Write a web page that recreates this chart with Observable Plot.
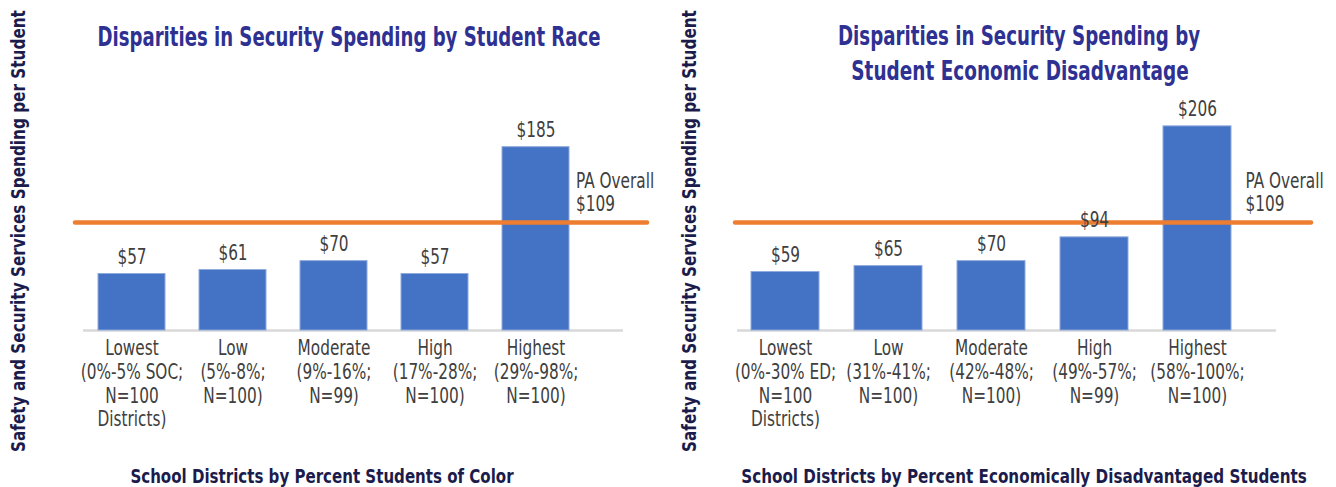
<!DOCTYPE html>
<html>
<head>
<meta charset="utf-8">
<script src="https://cdn.jsdelivr.net/npm/d3@7"></script>
<script src="https://cdn.jsdelivr.net/npm/@observablehq/plot@0.6"></script>
<style>
  body { margin: 0; background: #fff; }
  #wrap { position: relative; width: 1336px; height: 487px; display: flex; }
  .panel { position: relative; width: 668px; height: 487px; flex: none; }
  .narrow { font-family: "DejaVu Sans Condensed", "DejaVu Sans", sans-serif; }
  .lbl { position: absolute; white-space: nowrap; font-weight: bold; line-height: 1.2; }
  .title { color: #2e3192; font-size: 26px; }
  .xtitle { color: #1c1c4c; font-size: 20px; }
  .ytitle { color: #1c1c4c; font-size: 19.5px; }
  .chart { position: absolute; left: 0; top: 90px; }
</style>
</head>
<body>
<div id="wrap"></div>
<script>
// ---- data ----
const levels = ["Lowest", "Low", "Moderate", "High", "Highest"];

const raceRanges = ["(0%-5% SOC;", "(5%-8%;", "(9%-16%;", "(17%-28%;", "(29%-98%;"];
const raceCounts = ["N=100\nDistricts)", "N=100)", "N=99)", "N=100)", "N=100)"];
const raceValues = [57, 61, 70, 57, 185];

const econRanges = ["(0%-30% ED;", "(31%-41%;", "(42%-48%;", "(49%-57%;", "(58%-100%;"];
const econCounts = ["N=100\nDistricts)", "N=100)", "N=100)", "N=99)", "N=100)"];
const econValues = [59, 65, 70, 94, 206];

const paOverall = 109;

const yTitle = "Safety and Security Services Spending per Student";
const raceTitle = ["Disparities in Security Spending by Student Race"];
const econTitle = ["Disparities in Security Spending by", "Student Economic Disadvantage"];
const raceXTitle = "School Districts by Percent Students of Color";
const econXTitle = "School Districts by Percent Economically Disadvantaged Students";

const FONT = '"DejaVu Sans Condensed", "DejaVu Sans", sans-serif';
const GRAY = "#404040";
const TEXT_SCALE = 0.83;

// place a label centred at (cx, cy), squeezed horizontally to a target width
function placeLabel(parent, cls, text, cx, cy, targetW, rotate) {
  const el = document.createElement("div");
  el.className = "lbl narrow " + cls;
  el.textContent = text;
  el.style.left = cx + "px";
  el.style.top = cy + "px";
  parent.appendChild(el);
  const w = el.offsetWidth;
  const s = targetW / w;
  el.style.transform = `translate(-50%, -50%)${rotate ? " rotate(-90deg)" : ""} scaleX(${s})`;
  return el;
}

function condenseSvgText(svg) {
  svg.querySelectorAll("text").forEach(t => {
    const tr = t.getAttribute("transform");
    if (tr) t.setAttribute("transform", tr + ` scale(${TEXT_SCALE},1)`);
    else {
      const x = +t.getAttribute("x") || 0, y = +t.getAttribute("y") || 0;
      t.removeAttribute("x"); t.removeAttribute("y");
      t.setAttribute("transform", `translate(${x},${y}) scale(${TEXT_SCALE},1)`);
    }
  });
}

function makePanel(cfg) {
  const panel = document.createElement("div");
  panel.className = "panel narrow";
  document.getElementById("wrap").appendChild(panel);

  cfg.title.forEach((line, i) => placeLabel(panel, "title", line, cfg.titleX[i], cfg.titleY[i], cfg.titleW[i]));
  placeLabel(panel, "ytitle", yTitle, cfg.yTitleX, 231, 442, true);
  placeLabel(panel, "xtitle", cfg.xTitle, cfg.xTitleX, 476, cfg.xTitleW);

  const data = levels.map((l, i) => ({level: l, value: cfg.values[i]}));
  const labelOf = new Map(levels.map((l, i) => [l, l + "\n" + cfg.ranges[i] + "\n" + cfg.counts[i]]));

  const chart = Plot.plot({
    width: 668,
    height: 360,
    marginLeft: cfg.marginLeft,
    marginRight: cfg.marginRight,
    marginTop: 22,
    marginBottom: 120,
    style: {fontFamily: FONT, fontSize: "20.5px", color: GRAY, background: "transparent", overflow: "visible"},
    x: {domain: levels, paddingInner: cfg.paddingInner, paddingOuter: cfg.paddingOuter, align: cfg.align, axis: null},
    y: {domain: [0, 220], axis: null},
    marks: [
      Plot.ruleY([0], {stroke: "#d9d9d9", strokeWidth: 2.5, insetLeft: cfg.baseInsetLeft, insetRight: cfg.baseInsetRight}),
      Plot.barY(data, {x: "level", y: "value", fill: "#4472C4", stroke: "#8faadc", strokeWidth: 1}),
      Plot.ruleY([paOverall], {stroke: "#ED7D31", strokeWidth: 4.5, strokeLinecap: "round"}),
      Plot.text(data, {x: "level", y: "value", text: d => "$" + d.value, dy: -17, fill: GRAY, fontSize: 20.5}),
      Plot.axisX({tickSize: 0, tickPadding: 8, tickFormat: d => labelOf.get(d), lineHeight: 1.156, fontSize: 20.5, fill: GRAY, label: null}),
      Plot.text([paOverall], {x: () => "Highest", y: d => d, text: d => "PA Overall\n$" + d, textAnchor: "start", lineAnchor: "bottom", dx: cfg.paDx, dy: -11, lineHeight: 1.137, fontSize: 20.5, fill: GRAY})
    ]
  });
  condenseSvgText(chart);
  chart.classList.add("chart");
  panel.appendChild(chart);
}

makePanel({
  title: raceTitle, titleX: [348.5], titleY: [38], titleW: [503],
  xTitle: raceXTitle, xTitleX: 322, xTitleW: 383, yTitleX: 19,
  values: raceValues, ranges: raceRanges, counts: raceCounts,
  marginLeft: 75, marginRight: 21, paddingInner: 0.332, paddingOuter: 0.4975, align: 0.226,
  baseInsetLeft: 8, baseInsetRight: 24, paDx: 40
});
makePanel({
  title: econTitle, titleX: [351, 352], titleY: [37, 72], titleW: [362, 337],
  xTitle: econXTitle, xTitleX: 356, xTitleW: 566, yTitleX: 22,
  values: econValues, ranges: econRanges, counts: econCounts,
  marginLeft: 67, marginRight: 25, paddingInner: 0.337, paddingOuter: 0.4565, align: 0.167,
  baseInsetLeft: 2, baseInsetRight: 35, paDx: 48
});
</script>
</body>
</html>
